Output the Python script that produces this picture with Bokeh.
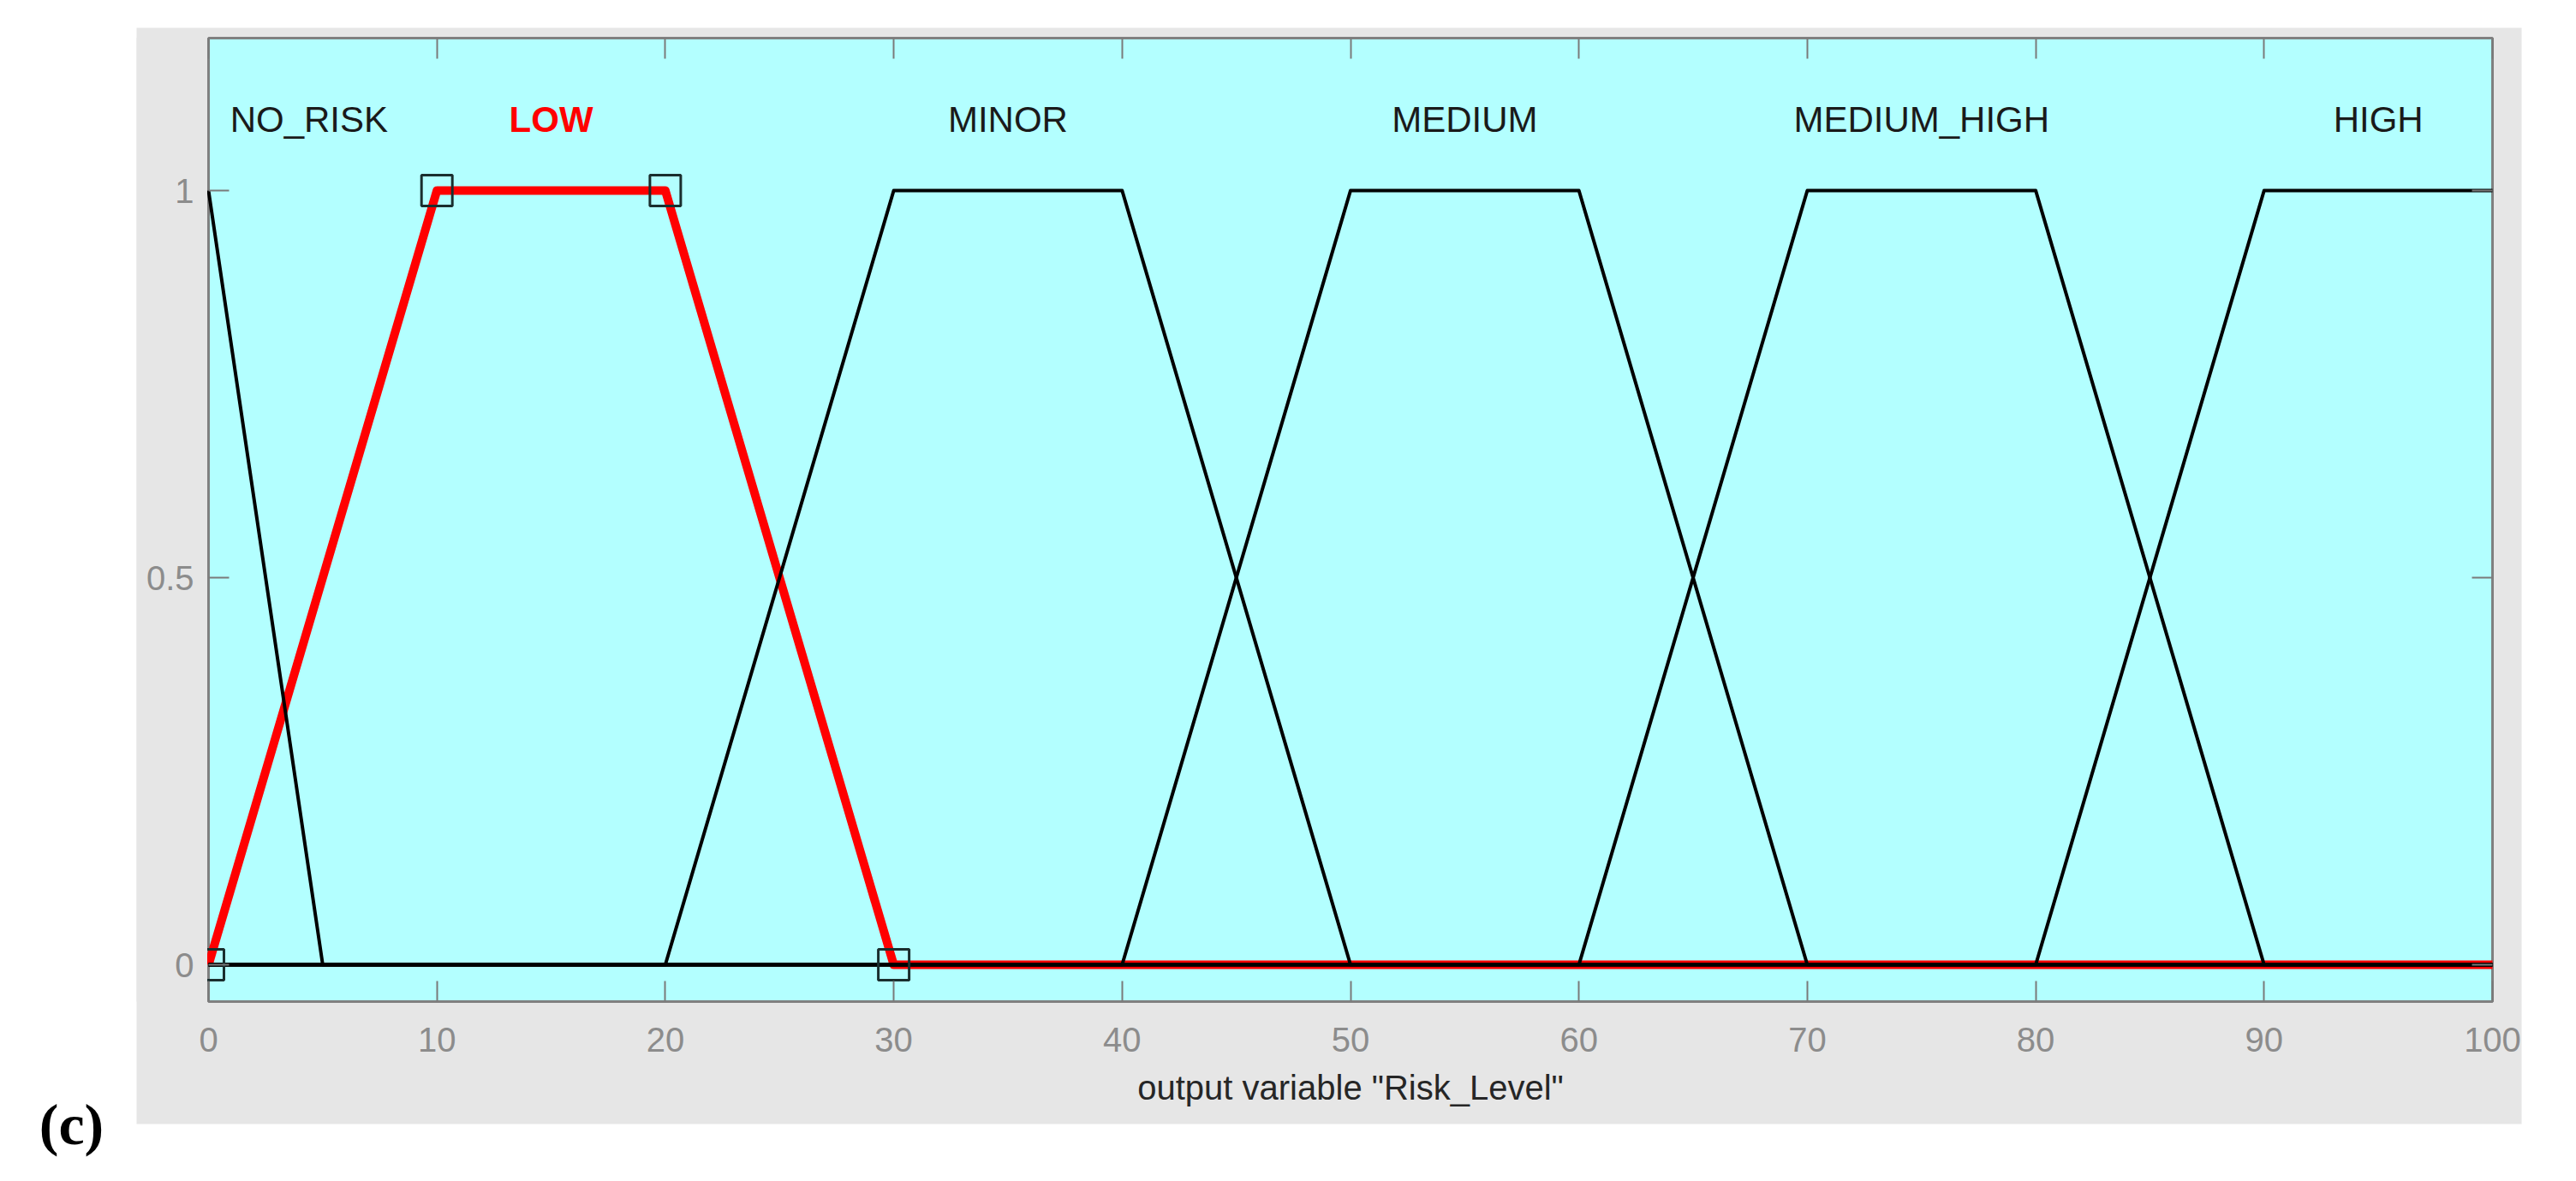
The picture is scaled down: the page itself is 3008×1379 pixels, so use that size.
from bokeh.plotting import figure
from bokeh.models import (LinearAxis, FixedTicker, Range1d, ColumnDataSource,
                          CustomJSTickFormatter, BoxAnnotation)
from bokeh.core.properties import value
from bokeh.embed import file_html
from bokeh.resources import INLINE

# ---------------- data ----------------
mf_names = ["NO_RISK", "LOW", "MINOR", "MEDIUM", "MEDIUM_HIGH", "HIGH"]

no_risk_x = [0, 5, 100]
no_risk_y = [1, 0, 0]

low_params = [0, 10, 20, 30]          # trapmf parameters (selected MF)
low_param_y = [0, 1, 1, 0]
low_x = [0, 10, 20, 30, 100]
low_y = [0, 1, 1, 0, 0]

minor_x = [0, 20, 30, 40, 50, 100]
minor_y = [0, 0, 1, 1, 0, 0]

medium_x = [0, 40, 50, 60, 70, 100]
medium_y = [0, 0, 1, 1, 0, 0]

medium_high_x = [0, 60, 70, 80, 90, 100]
medium_high_y = [0, 0, 1, 1, 0, 0]

high_x = [0, 80, 90, 100]
high_y = [0, 0, 1, 1]

label_x = [4.4, 15, 35, 55, 75, 95]

x_ticks = [0, 10, 20, 30, 40, 50, 60, 70, 80, 90, 100]
x_tick_labels = ["0", "10", "20", "30", "40", "50", "60", "70", "80", "90", "100"]
y_ticks = [0, 0.5, 1]
y_tick_labels = ["0", "0.5", "1"]
x_title = 'output variable "Risk_Level"'
panel_tag = "(c)"

# ---------------- layout (page pixels) ----------------
W, H = 3008, 1379
X0_PX, X100_PX = 243, 2910           # x = 0 and x = 100
Y0_PX, Y1_PX = 1126, 222             # y = 0 and y = 1
AXES_T, AXES_B = 44, 1169            # top / bottom edge of the axes box
PANEL_L, PANEL_R, PANEL_T, PANEL_B = 159, 2944, 32, 1312
TAG_X, TAG_Y = 83, 1312
LABEL_BASE_PX = 139
XTITLE_BASE_PX = 1269

ppx = (X100_PX - X0_PX) / 100.0
ppy = (Y0_PX - Y1_PX) / 1.0


def dx(px):
    return (px - X0_PX) / ppx


def dy(py):
    return (Y0_PX - py) / ppy


X_MIN, X_MAX = 0, 100
AX_BOTTOM, AX_TOP = dy(AXES_B), dy(AXES_T)

FONT = "Liberation Sans"
GRAY_TXT = "#8c8c8c"
TICK_COL = "#7a7a7a"
PANEL_COL = "#e6e6e6"

p = figure(width=W, height=H,
           x_range=Range1d(dx(0), dx(W)), y_range=Range1d(dy(H), dy(0)),
           output_backend="svg", toolbar_location=None, title=None,
           x_axis_location=None, y_axis_location=None,
           min_border_left=0, min_border_right=0, min_border_top=0, min_border_bottom=0)
p.border_fill_color = "white"
p.background_fill_color = "white"
p.outline_line_color = None
p.grid.visible = False

# grey figure panel and cyan axes box
p.add_layout(BoxAnnotation(left=dx(PANEL_L), right=dx(PANEL_R), top=dy(PANEL_T),
                           bottom=dy(PANEL_B), fill_color=PANEL_COL, fill_alpha=1.0,
                           line_color=None, level="underlay"))
p.add_layout(BoxAnnotation(left=X_MIN, right=X_MAX, top=AX_TOP, bottom=AX_BOTTOM,
                           fill_color="#b3ffff", fill_alpha=1.0,
                           line_color="#808080", line_alpha=1.0, line_width=3,
                           level="underlay"))


def make_axis(ticks, labels, loc, standoff, show_labels=True):
    ax = LinearAxis(fixed_location=loc)
    ax.ticker = FixedTicker(ticks=ticks)
    ax.major_tick_in = 24
    ax.major_tick_out = 0
    ax.minor_tick_line_color = None
    ax.axis_line_color = None
    ax.major_tick_line_color = TICK_COL
    ax.major_tick_line_width = 2
    if show_labels:
        ax.major_label_overrides = {t: s for t, s in zip(ticks, labels)}
        ax.major_label_text_font = FONT
        ax.major_label_text_font_size = "40px"
        ax.major_label_text_color = GRAY_TXT
        ax.major_label_standoff = standoff
    else:
        ax.formatter = CustomJSTickFormatter(code="return ''")
        ax.major_label_text_font_size = "1px"
        ax.major_label_text_color = None
        ax.major_label_standoff = 0
    return ax


# selected MF (red) underneath
p.line(low_x, low_y, line_color="#ff0000", line_width=10, line_join="round")

# other MFs in black
for xs, ys in [(no_risk_x, no_risk_y), (minor_x, minor_y), (medium_x, medium_y),
               (medium_high_x, medium_high_y), (high_x, high_y)]:
    p.line(xs, ys, line_color="black", line_width=4, line_join="round")

# parameter markers of the selected MF
p.scatter(low_params, low_param_y, marker="square", size=36, fill_color=None,
          line_color="#1a2e2e", line_width=3)

# clip anything that spills left of the axes box (as the axes clipping does)
p.quad(left=[dx(PANEL_L)], right=[dx(X0_PX - 1.5)], bottom=[AX_BOTTOM], top=[AX_TOP],
       fill_color=PANEL_COL, line_color=None)

# axes (drawn above the glyphs)
xa = make_axis(x_ticks, x_tick_labels, AX_BOTTOM, 30)
p.add_layout(xa, "below")
ya = make_axis(y_ticks, y_tick_labels, X_MIN, 17)
p.add_layout(ya, "left")
p.add_layout(make_axis(x_ticks, x_tick_labels, AX_TOP, 0, show_labels=False), "above")
p.add_layout(make_axis(y_ticks, y_tick_labels, X_MAX, 0, show_labels=False), "right")

# x axis title, centred under the axes box
p.text(x=[(X_MIN + X_MAX) / 2], y=[dy(XTITLE_BASE_PX)], text=[x_title],
       text_align="center", text_baseline="alphabetic", text_font=value(FONT),
       text_font_size="40px", text_color="#262626")

# MF names
label_y = dy(LABEL_BASE_PX)
black_src = ColumnDataSource(dict(x=[x for n, x in zip(mf_names, label_x) if n != "LOW"],
                                  y=[label_y] * 5,
                                  t=[n for n in mf_names if n != "LOW"]))
p.text(x="x", y="y", text="t", source=black_src, text_align="center",
       text_baseline="alphabetic", text_font=value(FONT), text_font_size="42px",
       text_color="#1a1a1a")
red_src = ColumnDataSource(dict(x=[x for n, x in zip(mf_names, label_x) if n == "LOW"],
                                y=[label_y], t=["LOW"]))
p.text(x="x", y="y", text="t", source=red_src, text_align="center",
       text_baseline="alphabetic", text_font=value(FONT), text_font_size="42px",
       text_font_style="bold", text_color="#ff0000")

# panel tag
p.text(x=[dx(TAG_X)], y=[dy(TAG_Y)], text=[panel_tag], text_align="center",
       text_baseline="alphabetic", text_font=value("Liberation Serif"),
       text_font_style="bold", text_font_size="68px", text_color="black")

open("out.html", "w").write(file_html(p, INLINE))
